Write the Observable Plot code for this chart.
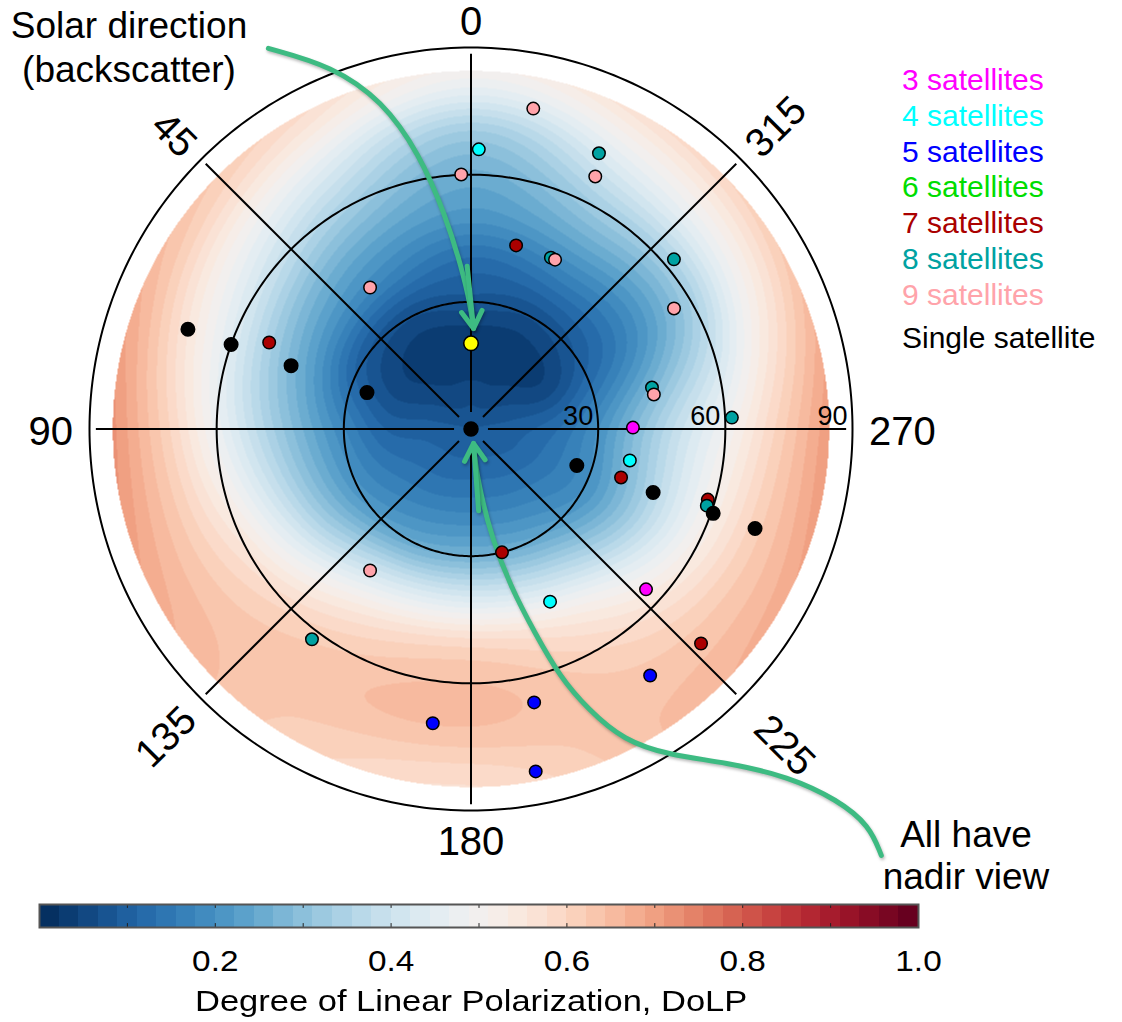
<!DOCTYPE html>
<html>
<head>
<meta charset="utf-8">
<script src="https://cdn.jsdelivr.net/npm/d3@7"></script>
<script src="https://cdn.jsdelivr.net/npm/@observablehq/plot@0.6"></script>
<style>
  html, body { margin: 0; padding: 0; background: #fff; }
  #page { position: relative; width: 1122px; height: 1022px; overflow: hidden;
          font-family: "Liberation Sans", Arial, Helvetica, sans-serif; color: #000; }
  #polar, #colorbar { position: absolute; left: 0; }
  #polar { top: 0; }
  #colorbar { top: 880px; }
  .note { position: absolute; text-align: center; white-space: nowrap; font-size: 37px; }
  #solar-note { left: 0; width: 258px; top: 4px; line-height: 44px; }
  #nadir-note { left: 866px; width: 200px; top: 814px; line-height: 42px; }
  #legend { position: absolute; left: 902px; top: 62px; font-size: 30px; line-height: 35.8px; white-space: nowrap; }
  #legend .single { margin-top: 7px; }
  #caption { position: absolute; left: 0; width: 942px; top: 983px; text-align: center;
             font-size: 30px; line-height: 36px; white-space: nowrap; }
  #caption span { display: inline-block; transform: scaleX(1.15); }
</style>
</head>
<body>
<div id="page">
  <div id="polar"></div>
  <div id="colorbar"></div>
  <div class="note" id="solar-note">Solar direction<br>(backscatter)</div>
  <div class="note" id="nadir-note">All have<br>nadir view</div>
  <div id="legend"></div>
  <div id="caption"><span>Degree of Linear Polarization, DoLP</span></div>
</div>
<script>
// ---------------------------------------------------------------------------
// Degree of linear polarization over the viewing hemisphere.
// Each array is one azimuth (deg, 0 = solar direction, counter-clockwise),
// sampled at the view zenith angles in zenithKnots.
// ---------------------------------------------------------------------------
const zenithKnots = [0, 10, 20, 30, 40, 50, 60, 70, 80, 86];
const azimuthKnots = [0, 30, 60, 90, 120, 150, 180, 210, 240, 270, 300, 330];

const dolpAz0   = [0.09, 0.05, 0.025, 0.08, 0.13, 0.21, 0.26, 0.33, 0.46, 0.52];
const dolpAz30  = [0.09, 0.05, 0.03, 0.07, 0.17, 0.25, 0.34, 0.44, 0.55, 0.60];
const dolpAz60  = [0.09, 0.07, 0.055, 0.10, 0.21, 0.31, 0.42, 0.52, 0.62, 0.66];
const dolpAz90  = [0.09, 0.10, 0.11, 0.18, 0.27, 0.37, 0.48, 0.59, 0.68, 0.73];
const dolpAz120 = [0.09, 0.115, 0.15, 0.21, 0.32, 0.45, 0.56, 0.62, 0.66, 0.68];
const dolpAz150 = [0.09, 0.12, 0.17, 0.25, 0.41, 0.55, 0.62, 0.64, 0.62, 0.61];
const dolpAz180 = [0.09, 0.125, 0.18, 0.27, 0.43, 0.585, 0.645, 0.645, 0.595, 0.57];
const dolpAz210 = [0.09, 0.12, 0.17, 0.25, 0.39, 0.53, 0.60, 0.63, 0.64, 0.64];
const dolpAz240 = [0.09, 0.11, 0.15, 0.20, 0.30, 0.42, 0.53, 0.61, 0.66, 0.69];
const dolpAz270 = [0.09, 0.10, 0.13, 0.20, 0.30, 0.40, 0.49, 0.585, 0.67, 0.72];
const dolpAz300 = [0.09, 0.07, 0.05, 0.10, 0.16, 0.24, 0.34, 0.47, 0.58, 0.64];
const dolpAz330 = [0.09, 0.05, 0.03, 0.07, 0.15, 0.24, 0.33, 0.43, 0.53, 0.59];
const dolpColumns = [dolpAz0, dolpAz30, dolpAz60, dolpAz90, dolpAz120, dolpAz150,
                     dolpAz180, dolpAz210, dolpAz240, dolpAz270, dolpAz300, dolpAz330];
const fieldMaxZenith = 84.5;   // the field is mapped out to this view zenith

// Observation geometries: [view zenith, view azimuth] in degrees
const obs3 = [[38.2, 270.5], [56.0, 227.5]];
const obs4 = [[66.0, 358.4], [38.2, 258.8], [44.8, 204.6]];
const obs5 = [[66.2, 193.0], [70.0, 172.6], [82.2, 190.7], [71.9, 216.0]];
const obs6 = [];
const obs7 = [[44.6, 346.2], [51.8, 66.8], [37.2, 252.1], [58.3, 253.4], [30.0, 194.1], [74.2, 227.0]];
const obs8 = [[71.7, 335.1], [44.6, 335.0], [62.4, 309.9], [43.8, 282.9], [61.6, 272.5], [58.5, 252.0], [62.2, 142.9]];
const obs9 = [[77.0, 349.0], [66.4, 333.8], [60.1, 2.2], [44.6, 333.6], [55.7, 300.7], [41.0, 35.5], [41.0, 144.5], [43.9, 280.7]];
const obsSingle = [[70.8, 70.6], [60.0, 70.6], [45.0, 70.6], [26.0, 70.7], [26.4, 251.0], [45.5, 250.8], [60.5, 250.8], [71.0, 250.7]];
const nadirView = [[0, 0]];
const solarDirection = [[20.2, 0]];

const groupLabels = ["3 satellites", "4 satellites", "5 satellites", "6 satellites",
                     "7 satellites", "8 satellites", "9 satellites", "Single satellite"];
const groupColors = ["#ff00ff", "#00ffff", "#0000ff", "#00dd00",
                     "#aa0000", "#00a2a2", "#ffa3aa", "#000000"];
const groupObs = [obs3, obs4, obs5, obs6, obs7, obs8, obs9, obsSingle];

// Polar grid
const ringZeniths = [30, 60, 90];
const spokeAzimuths = [0, 45, 90, 135, 180, 225, 270, 315];
const angleLabels = [0, 45, 90, 135, 180, 225, 270, 315];
const zenithTicks = [30, 60, 90];

// Annotation arrows (B-spline control points), in the plane's degree units (x right, y up)
const solarArrowPath = [[-47.8, 89.8], [-32.7, 85.6], [-21.0, 77.5], [-12.2, 65.0],
                        [-6.0, 50.4], [-2.2, 38.0], [-0.2, 29.5], [0.6, 23.7]];
const solarArrowHead = [[-0.9, 38.4], [0.6, 23.7]];
const nadirArrowPath = [[96.8, -100.6], [94.0, -93.5], [86.5, -87.5], [75.0, -82.0],
                        [60.0, -78.6], [47.0, -77.0], [36.0, -73.5], [27.5, -66.0],
                        [21.0, -58.5], [15.0, -48.0], [9.5, -37.5], [5.0, -26.0],
                        [2.2, -15.0], [0.9, -7.5], [0.6, -3.4]];
const nadirArrowHead = [[1.8, -19.3], [0.6, -3.4]];

// Colour bar
const binCount = 45;
const colorbarTicks = [0.2, 0.4, 0.6, 0.8, 1.0];
const colorbarMinorTicks = [0.1, 0.2, 0.3, 0.4, 0.5, 0.6, 0.7, 0.8, 0.9];

// ---------------------------------------------------------------------------
const fontFamily = '"Liberation Sans", Arial, Helvetica, sans-serif';
const arrowGreen = "#3dbb82";
const W = 1122, H = 880;
const cx = 470.5, cy = 428.5, R = 381.5;   // polar frame centre and 90° radius (px)
const pxPerDeg = R / 90;
const rad = Math.PI / 180;

const toX = (zen, az) => -zen * Math.sin(az * rad);
const toY = (zen, az) => zen * Math.cos(az * rad);

// Discrete diverging palette shared by the map and the colour bar
const thresholds = d3.range(1, binCount).map(i => i / binCount);
const colorScale = {
  type: "threshold",
  domain: thresholds,
  range: d3.quantize(t => d3.interpolateRdBu(1 - t), binCount)
};

// Smooth lookup of the tabulated field (cubic along zenith, periodic cubic along azimuth)
function hermite(p0, p1, m0, m1, s) {
  const s2 = s * s, s3 = s2 * s;
  return (2 * s3 - 3 * s2 + 1) * p0 + (s3 - 2 * s2 + s) * m0 + (-2 * s3 + 3 * s2) * p1 + (s3 - s2) * m1;
}
function radialValue(col, z) {
  const k = zenithKnots, n = k.length;
  let i = Math.min(n - 2, Math.max(0, d3.bisectRight(k, z) - 1));
  const h = k[i + 1] - k[i];
  const slope = j => j <= 0 ? (col[1] - col[0]) / (k[1] - k[0])
    : j >= n - 1 ? (col[n - 1] - col[n - 2]) / (k[n - 1] - k[n - 2])
    : (col[j + 1] - col[j - 1]) / (k[j + 1] - k[j - 1]);
  return hermite(col[i], col[i + 1], slope(i) * h, slope(i + 1) * h, (z - k[i]) / h);
}
function dolpAt(x, y) {
  const zen = Math.hypot(x, y);
  if (zen > fieldMaxZenith) return NaN;
  let az = Math.atan2(-x, y) / rad;
  if (az < 0) az += 360;
  const n = dolpColumns.length, step = 360 / n;
  const u = az / step, i = Math.floor(u) % n, s = u - Math.floor(u);
  const v = j => radialValue(dolpColumns[((j % n) + n) % n], zen);
  const p0 = v(i - 1), p1 = v(i), p2 = v(i + 1), p3 = v(i + 2);
  return hermite(p1, p2, (p2 - p0) / 2, (p3 - p1) / 2, s);
}

// angle labels sit just outside the frame, their centre pushed out by half their radial extent
const angleFont = 40;
function labelRadius(a) {
  const half = (a % 180 === 0) ? 0.3 * angleFont : String(a).length * 0.556 * angleFont / 2;
  return (398 + half + (a === 225 ? 12 : 0)) / pxPerDeg;
}
const labelRotate = a => (a % 90 === 0) ? 0 : (a === 45 || a === 225 ? 45 : -45);

const ringPoints = ringZeniths.flatMap(zen => d3.range(0, 361, 1).map(az => ({zen, az})));

const dotMarks = groupObs.map((obs, g) => Plot.dot(obs, {
  x: d => toX(d[0], d[1]),
  y: d => toY(d[0], d[1]),
  r: g === groupObs.length - 1 ? 6.75 : 6.25,
  fill: groupColors[g],
  stroke: "#000",
  strokeWidth: 1.5
}));

const arrowStyle = {stroke: arrowGreen, strokeWidth: 5, headLength: 6, headAngle: 62,
                    strokeLinecap: "round", strokeLinejoin: "round"};

const polar = Plot.plot({
  width: W, height: H,
  marginLeft: cx - R, marginRight: W - cx - R, marginTop: cy - R, marginBottom: H - cy - R,
  x: {domain: [-90, 90], axis: null},
  y: {domain: [-90, 90], axis: null},
  color: colorScale,
  style: {fontFamily, background: "transparent", overflow: "visible"},
  marks: [
    Plot.raster({fill: dolpAt, x1: -90, x2: 90, y1: -90, y2: 90, pixelSize: 1}),
    Plot.line(ringPoints, {x: d => toX(d.zen, d.az), y: d => toY(d.zen, d.az), z: "zen",
      stroke: "#000", strokeWidth: 2}),
    Plot.link(spokeAzimuths, {x1: a => toX(4, a), y1: a => toY(4, a),
      x2: a => toX(88.5, a), y2: a => toY(88.5, a), stroke: "#000", strokeWidth: 2}),
    Plot.text(angleLabels, {x: a => toX(labelRadius(a), a), y: a => toY(labelRadius(a), a),
      text: a => String(a), rotate: labelRotate, fontSize: angleFont, fill: "#000",
      textAnchor: "middle", lineAnchor: "middle", dy: 3}),
    Plot.text(zenithTicks, {x: z => z, y: 0, text: z => String(z), fontSize: 27, fill: "#000",
      textAnchor: "end", lineAnchor: "middle", dx: -5, dy: -12.5}),
    Plot.line(solarArrowPath, {x: d => d[0], y: d => d[1], curve: "basis",
      stroke: arrowGreen, strokeWidth: 5}),
    Plot.arrow([solarArrowHead], {x1: d => d[0][0], y1: d => d[0][1], x2: d => d[1][0], y2: d => d[1][1], ...arrowStyle}),
    Plot.line(nadirArrowPath, {x: d => d[0], y: d => d[1], curve: "basis",
      stroke: arrowGreen, strokeWidth: 5}),
    Plot.arrow([nadirArrowHead], {x1: d => d[0][0], y1: d => d[0][1], x2: d => d[1][0], y2: d => d[1][1], ...arrowStyle}),
    ...dotMarks,
    Plot.dot(nadirView, {x: d => toX(d[0], d[1]), y: d => toY(d[0], d[1]), r: 7, fill: "#000",
      stroke: "#000", strokeWidth: 1.5}),
    Plot.dot(solarDirection, {x: d => toX(d[0], d[1]), y: d => toY(d[0], d[1]), r: 7.3, fill: "#ffff00",
      stroke: "#000", strokeWidth: 1.6})
  ]
});
document.getElementById("polar").append(polar);
// soft drop shadow under the annotation arrows
d3.select(polar).selectAll(`g[stroke="${arrowGreen}"]`)
  .style("filter", "drop-shadow(1.5px 2.5px 1.5px rgba(0,0,0,0.28))");

// Colour bar
const colorBins = d3.range(binCount).map(i => ({lo: i / binCount, hi: (i + 1) / binCount}));
const colorbar = Plot.plot({
  width: W, height: 100,
  marginLeft: 39, marginRight: 204, marginTop: 24, marginBottom: 53,
  style: {fontFamily, fontSize: "29px", background: "transparent", overflow: "visible"},
  x: {domain: [0, 1], ticks: colorbarTicks, tickFormat: d3.format(".1f"), tickSize: 0, tickPadding: 23, label: null},
  y: {domain: [0, 1], axis: null},
  color: colorScale,
  marks: [
    Plot.rect(colorBins, {x1: "lo", x2: "hi", y1: 0, y2: 1, fill: d => (d.lo + d.hi) / 2, shapeRendering: "crispEdges"}),
    Plot.ruleX(colorbarMinorTicks, {y1: 0, y2: 0.17, stroke: "#222", strokeWidth: 1}),
    Plot.ruleX(colorbarMinorTicks, {y1: 0.83, y2: 1, stroke: "#222", strokeWidth: 1}),
    Plot.frame({stroke: "#555", strokeWidth: 2})
  ]
});
document.getElementById("colorbar").append(colorbar);
// widen the tick numerals like the caption
d3.select(colorbar).selectAll("text").each(function() {
  const t = this.getAttribute("transform") || "";
  this.setAttribute("transform", (t + " scale(1.15,1)").trim());
});

// Legend
const legend = d3.select("#legend");
groupLabels.forEach((label, g) => {
  legend.append("div")
    .attr("class", g === groupLabels.length - 1 ? "single" : null)
    .style("color", groupColors[g])
    .text(label);
});
</script>
</body>
</html>
